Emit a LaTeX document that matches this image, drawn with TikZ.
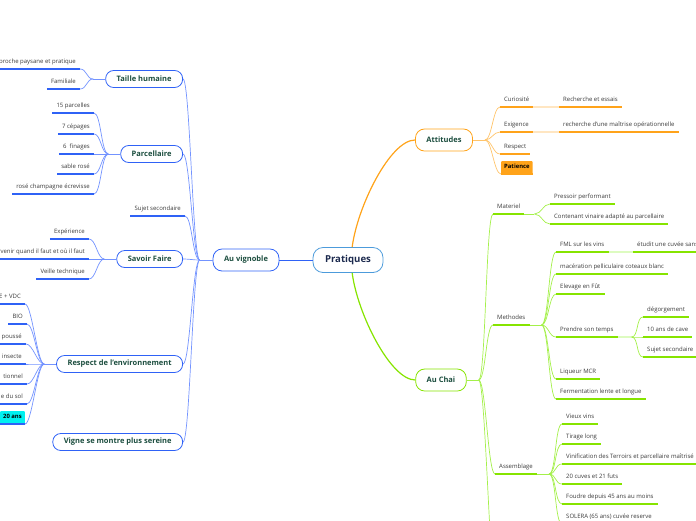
\documentclass[tikz,border=0pt]{standalone}
\usepackage{fontspec}
\setmainfont{Open Sans}

\definecolor{rootblue}{HTML}{4C9BDB}
\definecolor{rootnavy}{HTML}{1C2A4E}
\definecolor{topicgreen}{HTML}{1B4D3E}
\definecolor{leafgray}{HTML}{3A3A3A}
\definecolor{vblue}{HTML}{2F62F6}
\definecolor{vbluelight}{HTML}{7393FF}
\definecolor{vcyan}{HTML}{00F0F0}
\definecolor{aorange}{HTML}{FFA31A}
\definecolor{aorangelight}{HTML}{FFC46B}
\definecolor{aorangepale}{HTML}{FFE6C2}
\definecolor{cgreen}{HTML}{86E400}
\definecolor{cgreenlight}{HTML}{A4F04A}
\definecolor{cgreenpale}{HTML}{DDFBC0}

\begin{document}
\begin{tikzpicture}[x = 1pt, y = -1pt,
	root/.style = {draw = rootblue, line width = 0.8pt, rounded corners = 10pt, inner xsep = 12pt, minimum height = 25pt, font = \fontsize{9.6}{11}\selectfont\bfseries, text = rootnavy},
	topic/.style = {line width = 0.8pt, rounded corners = 9pt, inner xsep = 11pt, minimum height = 22pt, font = \fontsize{7.5}{8}\selectfont\bfseries, text = topicgreen},
	sub/.style = {topic, minimum height = 17pt, rounded corners = 8pt, draw = vblue, anchor = east},
	leaf/.style = {inner xsep = 4pt, inner ysep = 3.5pt, text height = 4.4pt, text depth = 1.4pt, font = \fontsize{6}{7}\selectfont, text = leafgray},
	lleaf/.style = {leaf, anchor = south east},
	rleaf/.style = {leaf, anchor = south west},
	hilite/.style = {fill = #1, rounded corners = 1pt, text = black, font = \fontsize{5.9}{7}\selectfont\bfseries, inner xsep = 3pt, inner ysep = 3.5pt},
	lft/.style = {to path = {.. controls +(-7,0) and +(7,0) .. (\tikztotarget)}},
	rgt/.style = {to path = {.. controls +(7,0) and +(-7,0) .. (\tikztotarget)}},
	vline/.style = {draw = vbluelight, line width = 0.7pt},
	vul/.style = {draw = vblue, line width = 1.5pt},
	oline/.style = {draw = aorangelight, line width = 0.7pt},
	oul/.style = {draw = aorange, line width = 1.5pt},
	gline/.style = {draw = cgreenlight, line width = 0.7pt},
	gul/.style = {draw = cgreen, line width = 1.5pt}]

	\useasboundingbox (0,0) rectangle (696,520);
	\clip (0,0) rectangle (696,520);

	% central topic and main branches
	\node[root] (pra) at (348,260) {Pratiques};
	\node[topic, draw = vblue] (vig) at (246,260) {Au vignoble};
	\node[topic, draw = aorange] (att) at (444,140) {Attitudes};
	\node[topic, draw = cgreen] (chai) at (441,380) {Au Chai};

	\draw[draw = vblue, line width = 0.8pt] (pra.west) -- (vig.east);
	\draw[draw = aorange, line width = 1.2pt] (pra.72) .. controls +(5,-40) and +(-25,0) .. (att.west);
	\draw[draw = cgreen, line width = 1.2pt] (pra.-72) .. controls +(5,40) and +(-25,0) .. (chai.west);

	% Au vignoble
	\node[sub] (th) at (183,79) {Taille humaine};
	\node[sub] (par) at (183,154) {Parcellaire};
	\node[lleaf] (sujv) at (185,216) {Sujet secondaire};
	\node[sub] (sf) at (183,259) {Savoir Faire};
	\node[sub] (resp) at (183,364) {Respect de l'environnement};
	\node[sub] (vigne) at (183,442) {Vigne se montre plus sereine};

	\node[lleaf] (appr) at (80,69) {Approche paysane et pratique};
	\node[lleaf] (fam) at (80,89) {Familiale};

	\node[lleaf] (p15) at (94,113) {15 parcelles};
	\node[lleaf] (p7) at (94,134) {7 cépages};
	\node[lleaf] (p6) at (94,154) {6~ finages};
	\node[lleaf] (sable) at (94,174) {sable rosé};
	\node[lleaf] (ecr) at (94,194) {rosé champagne écrevisse};

	\node[lleaf] (expe) at (89,239) {Expérience};
	\node[lleaf] (interv) at (89,259) {Intervenir quand il faut et où il faut};
	\node[lleaf] (veil) at (89,279) {Veille technique};

	\node[lleaf] (hve) at (25,304) {E + VDC};
	\node[lleaf] (bio) at (27,324) {BIO};
	\node[lleaf] (pous) at (26,344) {poussé};
	\node[lleaf] (insec) at (26,364) {insecte};
	\node[lleaf] (tion) at (27,384) {tionnel};
	\node[lleaf] (sol) at (27,404) {e du sol};
	\node[lleaf, hilite = vcyan] (vingt) at (25,424) {20 ans};

	\draw[vline] (vig.west) -- ++(-13,0) coordinate (vh);
	\foreach \n in {th, par, sf, resp, vigne}
		\draw[vline] (vh) to[lft] (\n.east);
	\draw[vline] (vh) to[lft] (sujv.south east);

	\draw[vline] (th.west) -- ++(-12,0) coordinate (thh);
	\foreach \n in {appr, fam}
		\draw[vline] (thh) to[lft] (\n.south east);
	\draw[vline] (par.west) -- ++(-12,0) coordinate (parh);
	\foreach \n in {p15, p7, p6, sable, ecr}
		\draw[vline] (parh) to[lft] (\n.south east);
	\draw[vline] (sf.west) -- ++(-12,0) coordinate (sfh);
	\foreach \n in {expe, interv, veil}
		\draw[vline] (sfh) to[lft] (\n.south east);
	\draw[vline] (resp.west) -- ++(-12,0) coordinate (resh);
	\foreach \n in {hve, bio, pous, insec, tion, sol, vingt}
		\draw[vline] (resh) to[lft] (\n.south east);

	\foreach \n in {sujv, appr, fam, p15, p7, p6, sable, ecr, expe, interv, veil, hve, bio, pous, insec, tion, sol, vingt}
		\draw[vul] (\n.south west) -- (\n.south east);

	% Attitudes
	\node[rleaf] (cur) at (500,107) {Curiosité};
	\node[rleaf] (rech) at (559,107) {Recherche et essais};
	\node[rleaf] (exi) at (500,132) {Exigence};
	\node[rleaf] (maitr) at (559,132) {recherche d'une maîtrise opérationnelle};
	\node[rleaf] (resp2) at (500,154) {Respect};
	\node[rleaf, hilite = aorange] (pat) at (501,174) {Patience};

	\draw[oline] (att.east) -- ++(12,0) coordinate (ah);
	\foreach \n in {cur, exi, resp2, pat}
		\draw[oline] (ah) to[rgt] (\n.south west);
	\draw[draw = aorangepale, line width = 1.5pt] (cur.south east) -- (rech.south west);
	\draw[draw = aorangepale, line width = 1.5pt] (exi.south east) -- (maitr.south west);

	\foreach \n in {cur, rech, exi, maitr, resp2, pat}
		\draw[oul] (\n.south west) -- (\n.south east);

	% Au Chai
	\node[rleaf] (mat) at (493,214) {Materiel};
	\node[rleaf] (press) at (550,204) {Pressoir performant};
	\node[rleaf] (cont) at (550,224) {Contenant vinaire adapté au parcellaire};

	\node[rleaf] (meth) at (493,325) {Methodes};
	\node[rleaf] (fml) at (556,252) {FML sur les vins};
	\node[rleaf] (etud) at (633,252) {étudit une cuvée sans};
	\node[rleaf] (macer) at (556,274) {macération pelliculaire coteaux blanc};
	\node[rleaf] (elev) at (556,294) {Elevage en Fût};
	\node[rleaf] (prend) at (556,337) {Prendre son temps};
	\node[rleaf] (degor) at (643,317) {dégorgement};
	\node[rleaf] (cave) at (643,337) {10 ans de cave};
	\node[rleaf] (sujc) at (643,357) {Sujet secondaire};
	\node[rleaf] (liq) at (556,379) {Liqueur MCR};
	\node[rleaf] (ferm) at (556,399) {Fermentation lente et longue};

	\node[rleaf] (ass) at (495,474) {Assemblage};
	\node[rleaf] (vieux) at (562,424) {Vieux vins};
	\node[rleaf] (tir) at (562,444) {Tirage long};
	\node[rleaf] (vinif) at (562,464) {Vinification des Terroirs et parcellaire maîtrisé};
	\node[rleaf] (cuves) at (562,484) {20 cuves et 21 futs};
	\node[rleaf] (foud) at (562,504) {Foudre depuis 45 ans au moins};
	\node[rleaf] (solera) at (562,524) {SOLERA (65 ans) cuvée reserve};
	\coordinate (more) at (497,600);

	\draw[gline] (chai.east) -- ++(12,0) coordinate (ch);
	\foreach \n in {mat, meth, ass}
		\draw[gline] (ch) to[rgt] (\n.south west);
	\draw[gline] (ch) to[rgt] (more);

	\draw[gline] (mat.south east) -- ++(10,0) coordinate (math);
	\foreach \n in {press, cont}
		\draw[gline] (math) to[rgt] (\n.south west);
	\draw[gline] (meth.south east) -- ++(12,0) coordinate (meh);
	\foreach \n in {fml, macer, elev, prend, liq, ferm}
		\draw[gline] (meh) to[rgt] (\n.south west);
	\draw[draw = cgreenpale, line width = 1.5pt] (fml.south east) -- (etud.south west);
	\draw[draw = cgreenpale, line width = 1.5pt] (prend.south east) -- ++(14,0) coordinate (prh);
	\foreach \n in {degor, cave, sujc}
		\draw[gline] (prh) to[rgt] (\n.south west);
	\draw[gline] (ass.south east) -- ++(12,0) coordinate (ash);
	\foreach \n in {vieux, tir, vinif, cuves, foud, solera}
		\draw[gline] (ash) to[rgt] (\n.south west);

	\foreach \n in {mat, press, cont, meth, fml, etud, macer, elev, prend, degor, cave, sujc, liq, ferm, ass, vieux, tir, vinif, cuves, foud, solera}
		\draw[gul] (\n.south west) -- (\n.south east);
\end{tikzpicture}
\end{document}
